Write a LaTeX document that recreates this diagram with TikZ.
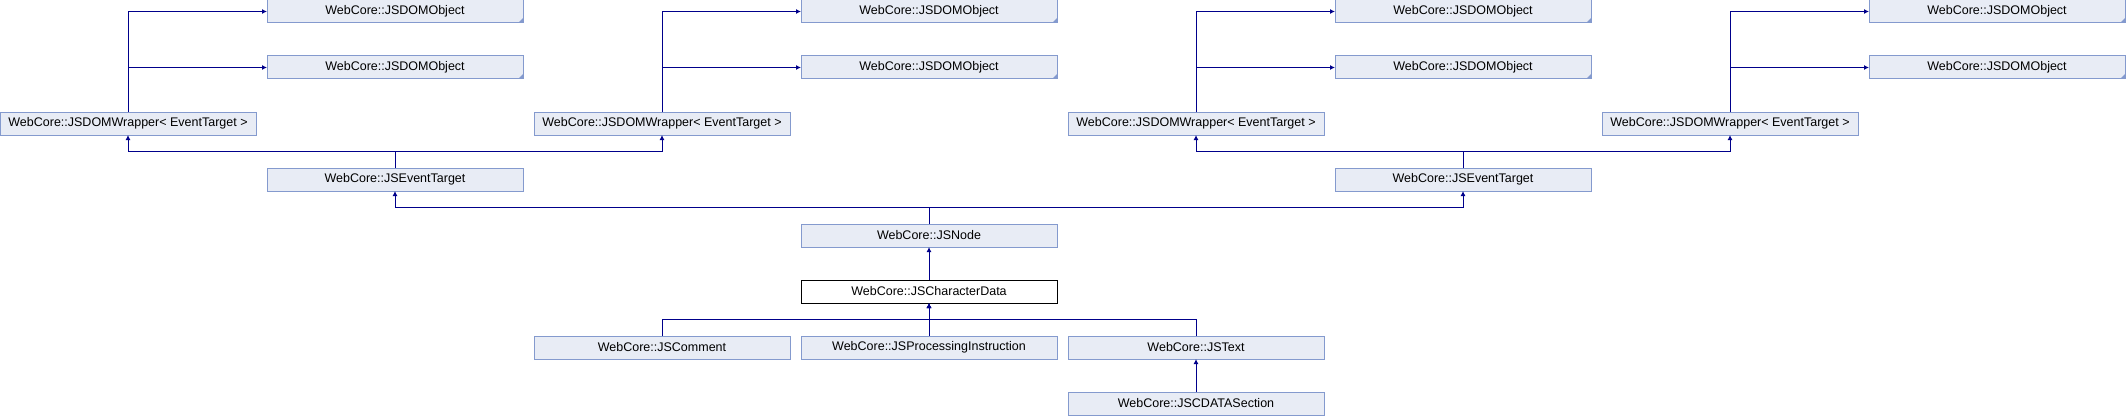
\documentclass[tikz,border=0pt]{standalone}
\usepackage{fontspec}
\setmainfont{Liberation Sans}
\usetikzlibrary{arrows.meta,positioning}

\definecolor{boxfill}{RGB}{232,236,245}
\definecolor{boxline}{RGB}{132,154,206}
\definecolor{edgecol}{RGB}{0,0,139}

\begin{document}
\begin{tikzpicture}[node distance=33pt and 11pt, font=\fontsize{12.5}{14}\selectfont,
  cls/.style={draw=boxline, fill=boxfill, line width=1pt, minimum width=256pt, minimum height=23pt, inner sep=0pt, outer sep=0pt},
  trunc/.style={cls, path picture={\fill[boxline] (path picture bounding box.south east) -- ++(-5pt,0) -- ++(5pt,5pt) -- cycle;}},
  cur/.style={cls, draw=black, fill=white},
  arr/.style={-{Latex[length=5pt,width=5pt]}, draw=edgecol, line width=1pt}]

\useasboundingbox (0,0) rectangle (2126pt,416pt);

\node (chardata) [cur] at (929pt,124.5pt) {WebCore::JSCharacterData};
\node (jsnode) [cls, above=of chardata] {WebCore::JSNode};

\node (procinstr) [cls, below=of chardata] {WebCore::JSProcessingInstruction};
\node (comment) [cls, left=of procinstr] {WebCore::JSComment};
\node (jstext) [cls, right=of procinstr] {WebCore::JSText};
\node (cdatasec) [cls, below=of jstext] {WebCore::JSCDATASection};

\node (evt1) [cls, above left=33pt and 278pt of jsnode] {WebCore::JSEventTarget};
\node (evt2) [cls, above right=33pt and 278pt of jsnode] {WebCore::JSEventTarget};

\node (wrap1) [cls, above left=of evt1] {WebCore::JSDOMWrapper< EventTarget >};
\node (wrap2) [cls, above right=of evt1] {WebCore::JSDOMWrapper< EventTarget >};
\node (wrap3) [cls, above left=of evt2] {WebCore::JSDOMWrapper< EventTarget >};
\node (wrap4) [cls, above right=of evt2] {WebCore::JSDOMWrapper< EventTarget >};

\node (dom1b) [trunc, above right=of wrap1] {WebCore::JSDOMObject};
\node (dom1a) [trunc, above=of dom1b] {WebCore::JSDOMObject};
\node (dom2b) [trunc, above right=of wrap2] {WebCore::JSDOMObject};
\node (dom2a) [trunc, above=of dom2b] {WebCore::JSDOMObject};
\node (dom3b) [trunc, above right=of wrap3] {WebCore::JSDOMObject};
\node (dom3a) [trunc, above=of dom3b] {WebCore::JSDOMObject};
\node (dom4b) [trunc, above right=of wrap4] {WebCore::JSDOMObject};
\node (dom4a) [trunc, above=of dom4b] {WebCore::JSDOMObject};

\draw[arr] (cdatasec) -- (jstext);
\draw[arr] (comment.north) -- ++(0,16.5pt) -| (chardata.south);
\draw[arr] (procinstr) -- (chardata);
\draw[arr] (jstext.north) -- ++(0,16.5pt) -| (chardata.south);
\draw[arr] (chardata) -- (jsnode);

\draw[arr] (jsnode.north) -- ++(0,16.5pt) -| (evt1.south);
\draw[arr] (jsnode.north) -- ++(0,16.5pt) -| (evt2.south);

\draw[arr] (evt1.north) -- ++(0,16.5pt) -| (wrap1.south);
\draw[arr] (evt1.north) -- ++(0,16.5pt) -| (wrap2.south);
\draw[arr] (evt2.north) -- ++(0,16.5pt) -| (wrap3.south);
\draw[arr] (evt2.north) -- ++(0,16.5pt) -| (wrap4.south);

\foreach \w in {1,2,3,4} {
  \draw[arr] (wrap\w.north) |- (dom\w a.west);
  \draw[arr] (wrap\w.north) |- (dom\w b.west);
}

\end{tikzpicture}
\end{document}
